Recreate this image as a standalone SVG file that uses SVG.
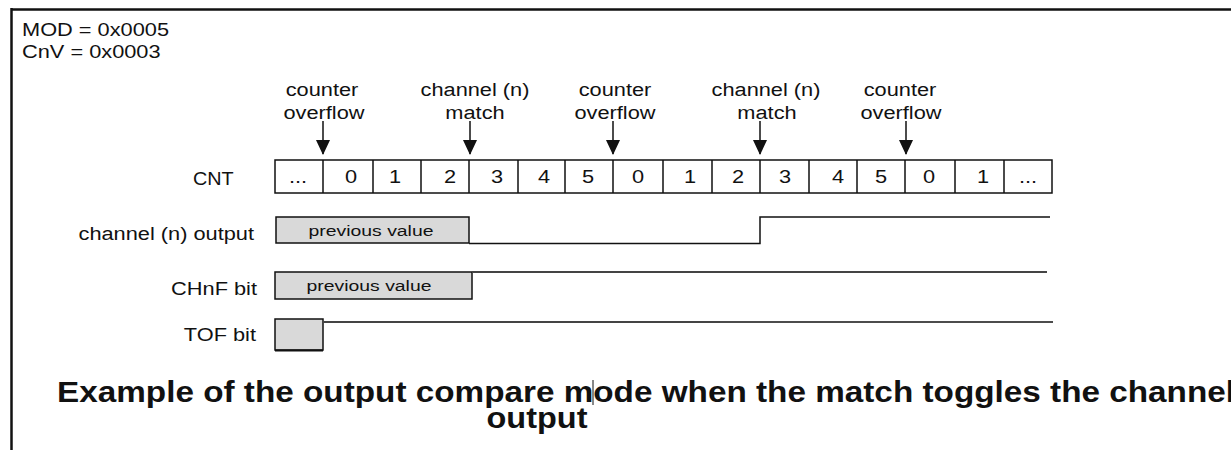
<svg xmlns="http://www.w3.org/2000/svg" width="1231" height="450" viewBox="0 0 1231 450">
<style>
text{font-family:"Liberation Sans",Arial,Helvetica,sans-serif;fill:#111}
.lbl{font-size:18px}
.num{font-size:18px;text-anchor:middle}
.mid{text-anchor:middle}
.end{text-anchor:end}
.pv{font-size:15.5px;text-anchor:middle}
.cap{font-size:29px;font-weight:bold}
.box{fill:#fff;stroke:#111;stroke-width:1.5}
.cell{stroke:#111;stroke-width:1.5}
.gray{fill:#d9d9d9;stroke:#111;stroke-width:1.5}
.sig{fill:none;stroke:#111;stroke-width:1.5}
.sigg{fill:none;stroke:#444;stroke-width:2.2}
.arr{stroke:#111;stroke-width:1.5}
</style>
<defs>
<marker id="ah" viewBox="0 0 15 14" refX="14" refY="7" markerWidth="15" markerHeight="14" markerUnits="userSpaceOnUse" orient="auto">
<path d="M0,0 L15,7 L0,14 Z" fill="#111"/>
</marker>
</defs>
<g id="frame">
<line x1="11" y1="9.5" x2="1231" y2="9.5" stroke="#111" stroke-width="2.5"/>
<line x1="11.5" y1="8" x2="11.5" y2="450" stroke="#111" stroke-width="2.5"/>
</g>
<g id="params">
<text class="lbl" transform="translate(22 36) scale(1.21 1)">MOD = 0x0005</text>
<text class="lbl" transform="translate(22 58) scale(1.21 1)">CnV = 0x0003</text>
</g>
<g id="event-labels">
<text class="lbl mid" transform="translate(322 96) scale(1.21 1)">counter</text>
<text class="lbl mid" transform="translate(324 119) scale(1.21 1)">overflow</text>
<text class="lbl mid" transform="translate(475 96) scale(1.21 1)">channel (n)</text>
<text class="lbl mid" transform="translate(475 119) scale(1.21 1)">match</text>
<text class="lbl mid" transform="translate(615 96) scale(1.21 1)">counter</text>
<text class="lbl mid" transform="translate(615 119) scale(1.21 1)">overflow</text>
<text class="lbl mid" transform="translate(766 96) scale(1.21 1)">channel (n)</text>
<text class="lbl mid" transform="translate(767 119) scale(1.21 1)">match</text>
<text class="lbl mid" transform="translate(900 96) scale(1.21 1)">counter</text>
<text class="lbl mid" transform="translate(901 119) scale(1.21 1)">overflow</text>
</g>
<g id="connectors">
<line class="arr" x1="323" y1="121" x2="323" y2="154" marker-end="url(#ah)"/>
<line class="arr" x1="470" y1="121" x2="470" y2="154" marker-end="url(#ah)"/>
<line class="arr" x1="613" y1="121" x2="613" y2="154" marker-end="url(#ah)"/>
<line class="arr" x1="760" y1="121" x2="760" y2="154" marker-end="url(#ah)"/>
<line class="arr" x1="906" y1="121" x2="906" y2="154" marker-end="url(#ah)"/>
</g>
<g id="cnt">
<text class="lbl" transform="translate(193 185) scale(1.1 1)">CNT</text>
<rect class="box" x="275" y="160" width="777" height="33"/>
<path class="cell" d="M323,160V193M373,160V193M421,160V193M469,160V193M518,160V193M565,160V193M613,160V193M663,160V193M712,160V193M760,160V193M809,160V193M857,160V193M905,160V193M955,160V193M1004,160V193"/>
<text class="num" transform="translate(298 183) scale(1.21 1)">...</text>
<text class="num" transform="translate(351 183) scale(1.21 1)">0</text>
<text class="num" transform="translate(395 183) scale(1.21 1)">1</text>
<text class="num" transform="translate(450 183) scale(1.21 1)">2</text>
<text class="num" transform="translate(497 183) scale(1.21 1)">3</text>
<text class="num" transform="translate(544 183) scale(1.21 1)">4</text>
<text class="num" transform="translate(588 183) scale(1.21 1)">5</text>
<text class="num" transform="translate(638 183) scale(1.21 1)">0</text>
<text class="num" transform="translate(690 183) scale(1.21 1)">1</text>
<text class="num" transform="translate(738 183) scale(1.21 1)">2</text>
<text class="num" transform="translate(785 183) scale(1.21 1)">3</text>
<text class="num" transform="translate(838 183) scale(1.21 1)">4</text>
<text class="num" transform="translate(881 183) scale(1.21 1)">5</text>
<text class="num" transform="translate(929 183) scale(1.21 1)">0</text>
<text class="num" transform="translate(983 183) scale(1.21 1)">1</text>
<text class="num" transform="translate(1028 183) scale(1.21 1)">...</text>
</g>
<g id="channel-output">
<text class="lbl end" transform="translate(254 240) scale(1.21 1)">channel (n) output</text>
<rect class="gray" x="276" y="217" width="193" height="26"/>
<text class="pv" transform="translate(371 236) scale(1.25 1)">previous value</text>
<path class="sig" d="M469,243.5H760V217H1050"/>
</g>
<g id="chnf-bit">
<text class="lbl end" transform="translate(257 295) scale(1.21 1)">CHnF bit</text>
<rect class="gray" x="275" y="272" width="197" height="27"/>
<text class="pv" transform="translate(369 291) scale(1.25 1)">previous value</text>
<path class="sigg" d="M472,272H1047"/>
</g>
<g id="tof-bit">
<text class="lbl end" transform="translate(256 341) scale(1.21 1)">TOF bit</text>
<rect class="gray" x="275" y="319" width="48" height="31"/>
<line x1="275" y1="350.5" x2="323" y2="350.5" stroke="#111" stroke-width="2"/>
<path class="sigg" d="M323,322H720"/>
<path class="sig" d="M720,322H1053"/>
</g>
<g id="caption">
<text class="cap" x="57" y="402" textLength="1178" lengthAdjust="spacingAndGlyphs">Example of the output compare mode when the match toggles the channel</text>
<text class="cap mid" transform="translate(537 428) scale(1.12 1)">output</text>
<line x1="593" y1="380" x2="593" y2="405" stroke="#111" stroke-width="1"/>
</g>
</svg>
